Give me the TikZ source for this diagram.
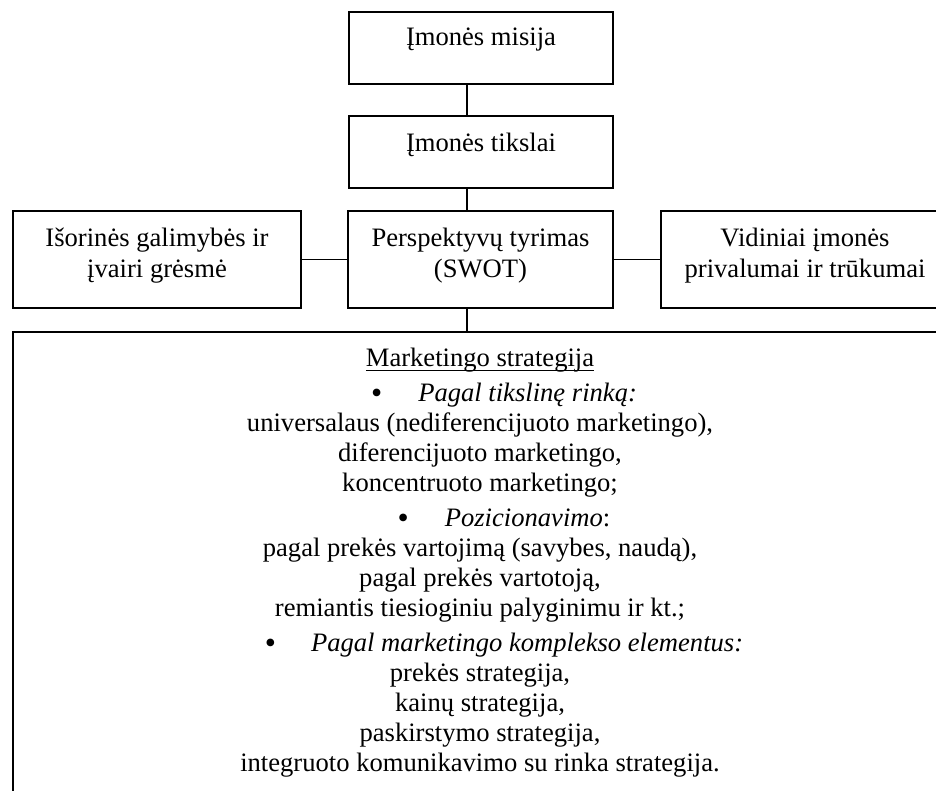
\documentclass[tikz,border=0pt]{standalone}
\usepackage{fontspec}
\setmainfont{Liberation Serif}
\begin{document}
\begin{tikzpicture}[x=0.5pt,y=-0.5pt,
  box/.style={draw,line width=1pt,inner sep=0pt,anchor=north west,
    font=\fontsize{13.3}{15.5}\selectfont,align=center},
  conn/.style={line width=0.8pt},
  bodytext/.style={inner sep=0pt,anchor=north,align=center,
    font=\fontsize{13.3}{15}\selectfont}]
\useasboundingbox (0,0) rectangle (936,791);
\clip (0,0) rectangle (936,791);
\newcommand{\upbox}[2]{\raisebox{#1}[\height][\depth]{\begin{tabular}{@{}c@{}}#2\end{tabular}}}
\newcommand{\upline}[2]{\raisebox{#1}[\height][\depth]{#2}}
\newcommand{\wul}[1]{\setbox0\hbox{#1}\rlap{\rule[-2.4pt]{\wd0}{0.8pt}}\box0}
\newcommand{\bul}{\raisebox{-0.9pt}{\scalebox{1.2}{\textbullet}}}
\renewcommand{\arraystretch}{1.0}
\node[box,minimum width=132pt,minimum height=36pt] (m1) at (348,11) {\upline{4pt}{Įmonės misija}};
\node[box,minimum width=132pt,minimum height=36pt] (m2) at (348,115) {\upline{3.5pt}{Įmonės tikslai}};
\node[box,minimum width=144pt,minimum height=48.5pt] (ext) at (12,210) {\upbox{2pt}{Išorinės galimybės ir\\ įvairi grėsmė}};
\node[box,minimum width=132.5pt,minimum height=48.5pt] (sw) at (347,210) {\upbox{2pt}{Perspektyvų tyrimas\\ (SWOT)}};
\node[box,minimum width=144pt,minimum height=48.5pt] (int) at (660,210) {\upbox{2pt}{Vidiniai įmonės\\ privalumai ir trūkumai}};
\node[box,minimum width=468pt,minimum height=250pt] (big) at (12,331) {};
\coordinate (ax) at (467,0);
\draw[conn] (m1.south -| ax) -- (m2.north -| ax);
\draw[conn] (m2.south -| ax) -- (sw.north -| ax);
\draw[conn] (sw.south -| ax) -- (big.north -| ax);
\draw[conn] (ext.east) -- (sw.west);
\draw[conn] (sw.east) -- (int.west);
\node[bodytext] (txt) at (480,347.5) {%
\wul{Marketingo strategija}\\[2.5pt]
\hspace*{24pt}\bul\hspace{18pt}\textit{Pagal tikslinę rinką:}\\
universalaus (nediferencijuoto marketingo),\\
diferencijuoto marketingo,\\
koncentruoto marketingo;\\[2.5pt]
\hspace*{24pt}\bul\hspace{18pt}\textit{Pozicionavimo}:\\
pagal prekės vartojimą (savybes, naudą),\\
pagal prekės vartotoją,\\
remiantis tiesioginiu palyginimu ir kt.;\\[2.5pt]
\hspace*{24pt}\bul\hspace{17.5pt}\textit{Pagal marketingo komplekso elementus:}\\
prekės strategija,\\
kainų strategija,\\
paskirstymo strategija,\\
integruoto komunikavimo su rinka strategija.};
\end{tikzpicture}
\end{document}
